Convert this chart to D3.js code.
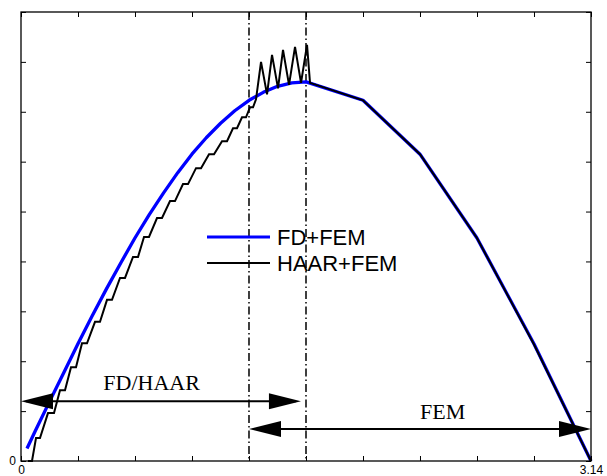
<!DOCTYPE html>
<html><head><meta charset="utf-8">
<script src="https://cdn.jsdelivr.net/npm/d3@7"></script>
<style>body{margin:0;background:#fff}svg{display:block}</style>
</head><body><div id="chart"></div>
<script>
// ---- data ----
const fdX = [0.033, 0.0785, 0.157, 0.2356, 0.314, 0.3927, 0.471, 0.5498, 0.628, 0.7069, 0.785, 0.8639,
  0.942, 1.0210, 1.100, 1.1781, 1.257, 1.3352, 1.414, 1.4923, 1.571, 1.885, 2.199, 2.513, 2.827, 3.1416];
const fdY = [0.25, 0.60, 1.19, 1.77, 2.35, 2.91, 3.45, 3.97, 4.47, 4.94, 5.37, 5.78,
  6.15, 6.48, 6.77, 7.02, 7.23, 7.39, 7.51, 7.58, 7.60, 7.23, 6.15, 4.47, 2.35, 0.00];

const haarX = [0.0386, 0.0606, 0.0827, 0.1047, 0.1488, 0.1819, 0.2150, 0.2425, 0.2756, 0.3032,
  0.3362, 0.3638, 0.4079, 0.4354, 0.4740, 0.5016, 0.5457, 0.5732, 0.6173, 0.6449,
  0.6780, 0.7055, 0.7496, 0.7772, 0.8213, 0.8488, 0.8929, 0.9205, 0.9646, 0.9922,
  1.0363, 1.0638, 1.1079, 1.1355, 1.1685, 1.1906, 1.2181, 1.2402, 1.2622, 1.2788,
  1.2953, 1.3229, 1.3560, 1.3835, 1.4166, 1.4441, 1.4772, 1.5103, 1.5434, 1.5764,
  1.5930, 1.885, 2.199, 2.513, 2.827, 3.1416];
const haarY = [0.00, 0.00, 0.46, 0.46, 0.96, 0.96, 1.42, 1.42, 1.88, 1.88,
  2.36, 2.36, 2.79, 2.79, 3.23, 3.23, 3.67, 3.67, 4.09, 4.09,
  4.49, 4.49, 4.87, 4.87, 5.21, 5.21, 5.55, 5.55, 5.87, 5.87,
  6.15, 6.15, 6.41, 6.41, 6.67, 6.67, 6.89, 6.89, 7.09, 7.09,
  7.25, 8.00, 7.35, 8.14, 7.47, 8.24, 7.54, 8.30, 7.58, 8.34,
  7.58, 7.23, 6.15, 4.47, 2.34, 0.00];

const dividerX = [1.2566, 1.5708];
const xTickValues = [0, 0.3142, 0.6283, 0.9425, 1.2566, 1.5708, 1.8850, 2.1991, 2.5133, 2.8274, 3.1416];
const xTickLabels = ["0", "", "", "", "", "", "", "", "", "", "3.14"];
const yTickValues = [0, 1, 2, 3, 4, 5, 6, 7, 8, 9];
const yTickLabels = ["0", "", "", "", "", "", "", "", "", ""];

const arrowNames = ["FD/HAAR", "FEM"];
const arrowX0 = [0, 1.2566];
const arrowX1 = [1.543, 3.1416];
const arrowY = [1.20, 0.64];
const arrowLabelX = [0.454, 2.199];
const arrowLabelY = [1.43, 0.84];

const legendNames = ["FD+FEM", "HAAR+FEM"];
const legendColors = ["#0000ff", "#000000"];
const legendWidths = [3, 2];

// ---- layout ----
const W = 607, H = 476;
const m = {left: 21, right: 16, top: 12, bottom: 15};
const svg = d3.select("#chart").append("svg").attr("width", W).attr("height", H);
const x = d3.scaleLinear().domain([0, 3.1416]).range([m.left, W - m.right]);
const y = d3.scaleLinear().domain([0, 9]).range([H - m.bottom, m.top]);

const font = "'Liberation Sans', Arial, Helvetica, sans-serif";

// divider lines
svg.selectAll("line.div").data(dividerX).enter().append("line")
  .attr("x1", d => x(d)).attr("x2", d => x(d))
  .attr("y1", y(9)).attr("y2", y(0))
  .attr("stroke", "#000").attr("stroke-width", 1.5)
  .attr("stroke-dasharray", "8,3,1.5,3");

// curves
const line = d3.line().x(d => x(d[0])).y(d => y(d[1]));
svg.append("path").datum(d3.zip(fdX, fdY)).attr("d", line)
  .attr("fill", "none").attr("stroke", "#0000ff").attr("stroke-width", 3.3)
  .attr("stroke-linejoin", "round");
svg.append("path").datum(d3.zip(haarX, haarY)).attr("d", line)
  .attr("fill", "none").attr("stroke", "#000").attr("stroke-width", 2)
  .attr("stroke-linejoin", "miter");

// arrows
const headL = 32, headH = 8;
arrowNames.forEach((name, i) => {
  const x0 = x(arrowX0[i]), x1 = x(arrowX1[i]), yy = y(arrowY[i]);
  svg.append("line").attr("x1", x0 + 5).attr("x2", x1 - 5).attr("y1", yy).attr("y2", yy)
    .attr("stroke", "#000").attr("stroke-width", 2);
  svg.append("path").attr("d", `M${x0},${yy}L${x0 + headL},${yy - headH}L${x0 + headL},${yy + headH}Z`).attr("fill", "#000");
  svg.append("path").attr("d", `M${x1},${yy}L${x1 - headL},${yy - headH}L${x1 - headL},${yy + headH}Z`).attr("fill", "#000");
  svg.append("text").attr("x", x(arrowLabelX[i])).attr("y", y(arrowLabelY[i]))
    .attr("font-family", "'Liberation Serif', 'Times New Roman', serif").attr("font-size", 22)
    .text(name);
});

// legend
legendNames.forEach((name, i) => {
  const ly = 237 + i * 26;
  svg.append("line").attr("x1", 207).attr("x2", 270).attr("y1", ly).attr("y2", ly)
    .attr("stroke", legendColors[i]).attr("stroke-width", legendWidths[i]);
  svg.append("text").attr("x", 277).attr("y", ly + 8)
    .attr("font-family", font).attr("font-size", 22).text(name);
});

// axes (box with inward ticks)
function styleAxis(g) {
  g.select(".domain").remove();
  g.selectAll(".tick line").attr("stroke", "#000").attr("stroke-width", 1);
  g.selectAll(".tick text").attr("font-family", font).attr("font-size", 12).attr("fill", "#000");
}
svg.append("g").attr("transform", `translate(0,${y(0)})`)
  .call(d3.axisBottom(x).tickValues(xTickValues).tickSizeInner(-5).tickSizeOuter(0).tickPadding(4)
    .tickFormat((d, i) => xTickLabels[i])).call(styleAxis);
svg.append("g").attr("transform", `translate(0,${y(9)})`)
  .call(d3.axisTop(x).tickValues(xTickValues).tickSizeInner(-5).tickSizeOuter(0).tickFormat(""))
  .call(styleAxis);
svg.append("g").attr("transform", `translate(${x(0)},0)`)
  .call(d3.axisLeft(y).tickValues(yTickValues).tickSizeInner(-5).tickSizeOuter(0).tickPadding(5)
    .tickFormat((d, i) => yTickLabels[i])).call(styleAxis);
svg.append("g").attr("transform", `translate(${x(3.1416)},0)`)
  .call(d3.axisRight(y).tickValues(yTickValues).tickSizeInner(-5).tickSizeOuter(0).tickFormat(""))
  .call(styleAxis);
svg.append("rect").attr("x", x(0)).attr("y", y(9))
  .attr("width", x(3.1416) - x(0)).attr("height", y(0) - y(9))
  .attr("fill", "none").attr("stroke", "#000").attr("stroke-width", 1.3);
</script>
</body></html>
